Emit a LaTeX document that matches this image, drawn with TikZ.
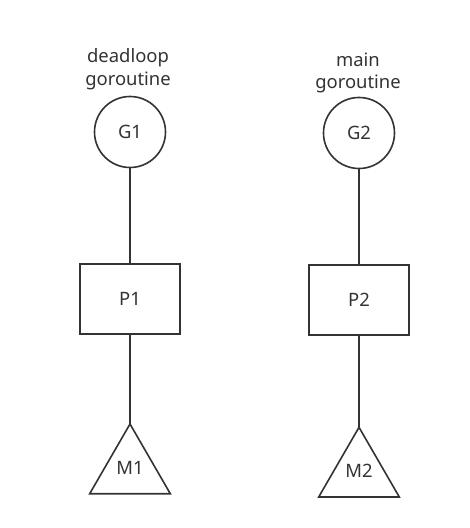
\documentclass[tikz,border=0pt]{standalone}
\usepackage{fontspec}
\setmainfont{Noto Sans}
\begin{document}
\begin{tikzpicture}[x=1bp,y=-1bp,
  line width=1.6bp, draw={rgb,255:red,51;green,51;blue,51},
  txt/.style={font=\fontsize{18.5}{22.7}\selectfont, text={rgb,255:red,51;green,51;blue,51}, inner sep=0pt},
  gnode/.style={circle, draw, minimum size=71bp, inner sep=0pt, txt},
  pnode/.style={rectangle, draw, minimum width=100.5bp, minimum height=70.3bp, inner sep=0pt, txt}]
\useasboundingbox (0,0) rectangle (470,528);
\node[txt, align=center] (lab1) at (128,69.5) {deadloop\\goroutine};
\node[txt, align=center] (lab2) at (358,73) {main\\goroutine};
\node[gnode] (G1) at (130,132) {G1};
\node[gnode] (G2) at (359,133) {G2};
\node[pnode] (P1) at (130,299) {P1};
\node[pnode] (P2) at (359,300) {P2};
\coordinate (M1top) at (130,424);
\coordinate (M2top) at (359,427.3);
\draw[line join=miter] (M1top) -- (170.3,493.7) -- (89.7,493.7) -- cycle;
\draw[line join=miter] (M2top) -- (399.3,497) -- (318.7,497) -- cycle;
\node[txt] (M1) at (130,468) {M1};
\node[txt] (M2) at (359,471) {M2};
\draw (G1) -- (P1);
\draw (P1) -- (M1top);
\draw (G2) -- (P2);
\draw (P2) -- (M2top);
\end{tikzpicture}
\end{document}
